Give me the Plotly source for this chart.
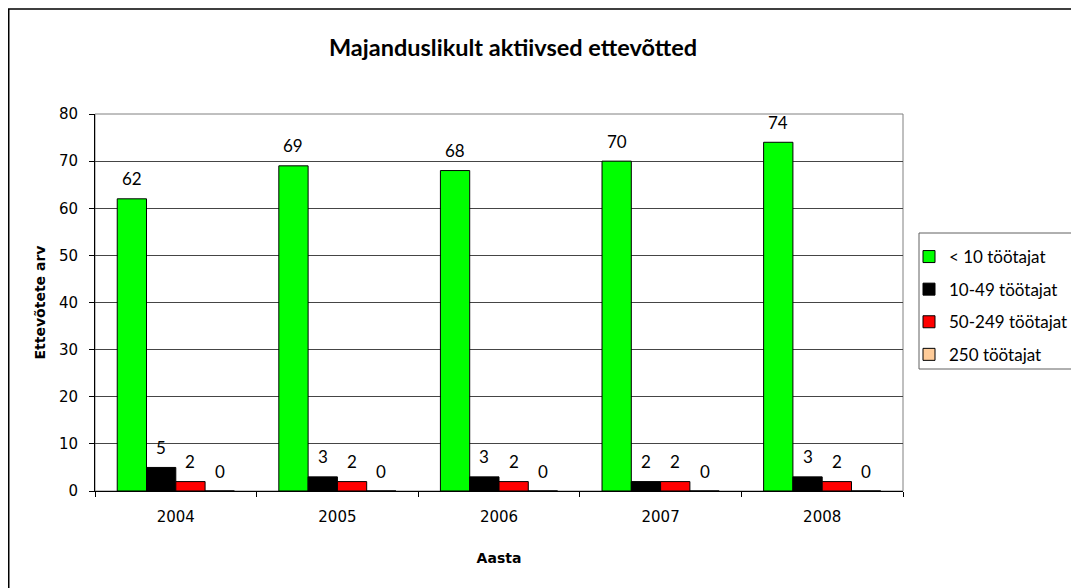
import plotly.graph_objects as go

years = ["2004", "2005", "2006", "2007", "2008"]
series_names = ["< 10 töötajat", "10-49 töötajat", "50-249 töötajat", "250 töötajat"]
s_lt10 = [62, 69, 68, 70, 74]
s_10_49 = [5, 3, 3, 2, 3]
s_50_249 = [2, 2, 2, 2, 2]
s_250 = [0, 0, 0, 0, 0]
colors = ["#00FF00", "#000000", "#FF0000", "#FFCC99"]

title_text = "Majanduslikult aktiivsed ettevõtted"
x_title = "Aasta"
y_title = "Ettevõtete arv"

# page offset (body margin) = 8px
OFF = 8
W, H = 1079 - OFF, 588 - OFF
# plot area in page coords: x 95..903, y 114..491
L = 95 - OFF
R = W - (903 - OFF)
T = 114 - OFF
B = H - (491 - OFF)
pw, ph = W - L - R, H - T - B

def px(xpage):
    return (xpage - OFF - L) / pw

def py(ypage):
    return (H - B - (ypage - OFF)) / ph

BARGAP = 0.275
n_series = 4
bar_w = pw / len(years) * (1 - BARGAP) / n_series

fig = go.Figure()
all_series = [s_lt10, s_10_49, s_50_249, s_250]
for i, (name, vals) in enumerate(zip(series_names, all_series)):
    fig.add_trace(go.Bar(
        x=years, y=vals, name=name,
        marker=dict(color=colors[i], line=dict(color="#000000", width=1)),
        legendgroup=str(i),
    ))

# data labels: category index on the category axis, value on the y axis
annotations = []
for i, vals in enumerate(all_series):
    for j, v in enumerate(vals):
        annotations.append(dict(
            x=j, y=v, xref="x", yref="y", text=str(v), showarrow=False,
            xshift=(i - (n_series - 1) / 2) * bar_w, yshift=20,
            yanchor="middle", xanchor="center",
            font=dict(family="Lato", size=17, color="#000000"),
        ))

fig.update_layout(
    width=W, height=H,
    margin=dict(l=L, r=R, t=T, b=B, autoexpand=False),
    paper_bgcolor="white", plot_bgcolor="white",
    barmode="group", bargap=BARGAP, bargroupgap=0,
    title=dict(text="<b>" + title_text + "</b>", xref="container",
               x=(513 - OFF) / W, xanchor="center",
               yref="container", y=1 - (48 - OFF) / H, yanchor="middle",
               font=dict(family="Lato", size=23.5, color="#000000")),
    showlegend=True,
    legend=dict(x=px(909), xanchor="left", y=py(239), yanchor="top",
                bgcolor="rgba(0,0,0,0)", borderwidth=0,
                font=dict(family="Lato", size=17, color="#000000"),
                tracegroupgap=7.5, itemwidth=30,
                traceorder="grouped"),
    xaxis=dict(
        type="category", range=[-0.5, len(years) - 0.5],
        title=dict(text="<b>" + x_title + "</b>", standoff=28,
                   font=dict(family="DejaVu Sans", size=14, color="#000000")),
        tickfont=dict(family="DejaVu Sans", size=15, color="#000000"),
        showline=True, linecolor="#000000", linewidth=1,
        ticks="outside", ticklen=5, tickcolor="#000000", tickson="boundaries",
        ticklabelstandoff=12,
        showgrid=False,
    ),
    yaxis=dict(
        range=[0, 80], dtick=10,
        title=dict(text="<b>" + y_title + "</b>", standoff=10,
                   font=dict(family="DejaVu Sans", size=14, color="#000000")),
        tickfont=dict(family="DejaVu Sans", size=15, color="#000000"),
        showline=True, linecolor="#000000", linewidth=1,
        ticks="outside", ticklen=5, tickcolor="#000000",
        ticklabelstandoff=8,
        showgrid=True, gridcolor="#454545", gridwidth=1,
        zeroline=False,
    ),
    annotations=annotations,
    shapes=[
        dict(type="rect", xref="paper", yref="paper", x0=0, x1=1, y0=0, y1=1,
             line=dict(color="#808080", width=1), layer="below"),
        # legend frame
        dict(type="rect", xref="paper", yref="paper",
             x0=px(919), x1=px(1120), y0=py(369), y1=py(233),
             line=dict(color="#606060", width=1), fillcolor="white", layer="below"),
        # outer chart frame
        dict(type="rect", xref="paper", yref="paper",
             x0=px(OFF + 0.75), x1=px(1120), y0=py(620), y1=py(9),
             line=dict(color="#000000", width=1.5), layer="below"),
    ],
)

fig.write_html("out.html")
